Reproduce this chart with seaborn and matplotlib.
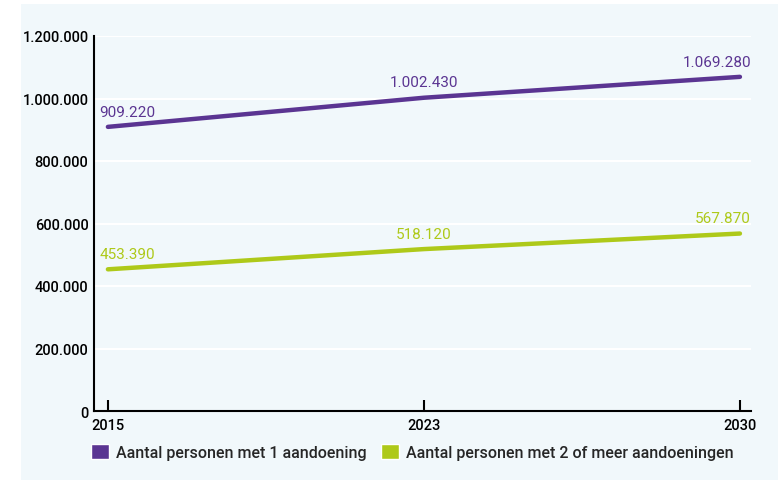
import matplotlib.pyplot as plt
from matplotlib.patches import Patch, Rectangle
import seaborn as sns
import pandas as pd

years = ["2015", "2023", "2030"]
een_aandoening = [909220, 1002430, 1069280]
meer_aandoeningen = [453390, 518120, 567870]
series_names = ["Aantal personen met 1 aandoening", "Aantal personen met 2 of meer aandoeningen"]
y_ticks = [0, 200000, 400000, 600000, 800000, 1000000, 1200000]

purple = "#5b3592"
green = "#aec919"
bg = "#f1f8fb"

def nl(v):
    return f"{v:,}".replace(",", ".")

df = pd.DataFrame({
    "jaar": years * 2,
    "aantal": een_aandoening + meer_aandoeningen,
    "groep": [series_names[0]] * 3 + [series_names[1]] * 3,
})

sns.set_style("white")
plt.rcParams["font.family"] = ["Roboto", "DejaVu Sans"]

fig = plt.figure(figsize=(7.78, 4.81), dpi=100)
fig.add_artist(Rectangle((21 / 778, 0), 1, 1 - 5 / 481, transform=fig.transFigure,
                         facecolor=bg, edgecolor="none", zorder=-5))
ax = fig.add_axes([94 / 778, 1 - 412 / 481, (751 - 94) / 778, (412 - 37) / 481])
ax.set_facecolor(bg)

# years as categories: equally spaced, like the original
sns.lineplot(data=df, x="jaar", y="aantal", hue="groep", palette=[purple, green],
             linewidth=3.2, legend=False, ax=ax, zorder=3)
for line in ax.lines:
    line.set_solid_capstyle("round")

ax.set_xlim(-0.044, 2.035)
ax.set_ylim(0, 1200000)
ax.set_yticks(y_ticks)
ax.set_yticklabels([nl(v) for v in y_ticks])
ax.grid(axis="y", color="white", linewidth=1.5)
ax.set_axisbelow(True)
for s in ["top", "right"]:
    ax.spines[s].set_visible(False)
for s in ["left", "bottom"]:
    ax.spines[s].set_color("black")
    ax.spines[s].set_linewidth(1.5)
ax.tick_params(axis="y", left=False, length=0, pad=4, labelsize=10.5, labelcolor="black")
ax.tick_params(axis="x", bottom=True, direction="in", length=8, width=1.5, color="black",
               pad=5, labelsize=10.5, labelcolor="black")
for t in ax.get_xticklabels() + ax.get_yticklabels():
    t.set_fontweight("medium")
ax.set_xlabel("")
ax.set_ylabel("")

offsets = [(-6, "left"), (0, "center"), (8, "right")]
for vals, col in [(een_aandoening, purple), (meer_aandoeningen, green)]:
    for i, ((dx, ha), v) in enumerate(zip(offsets, vals)):
        ax.annotate(nl(v), (i, v), xytext=(dx, 6), textcoords="offset points",
                    ha=ha, va="bottom", color=col, fontsize=11)

handles = [Patch(facecolor=purple), Patch(facecolor=green)]
leg = fig.legend(handles, series_names, loc="center left", bbox_to_anchor=(85 / 778, 1 - 453 / 481),
                 ncol=2, frameon=False, fontsize=11.5, handlelength=1.1, handleheight=1.1,
                 handletextpad=0.45, columnspacing=0.9, borderaxespad=0)
for t in leg.get_texts():
    t.set_fontweight("medium")

fig.savefig("out.png", dpi=100, facecolor="white")
